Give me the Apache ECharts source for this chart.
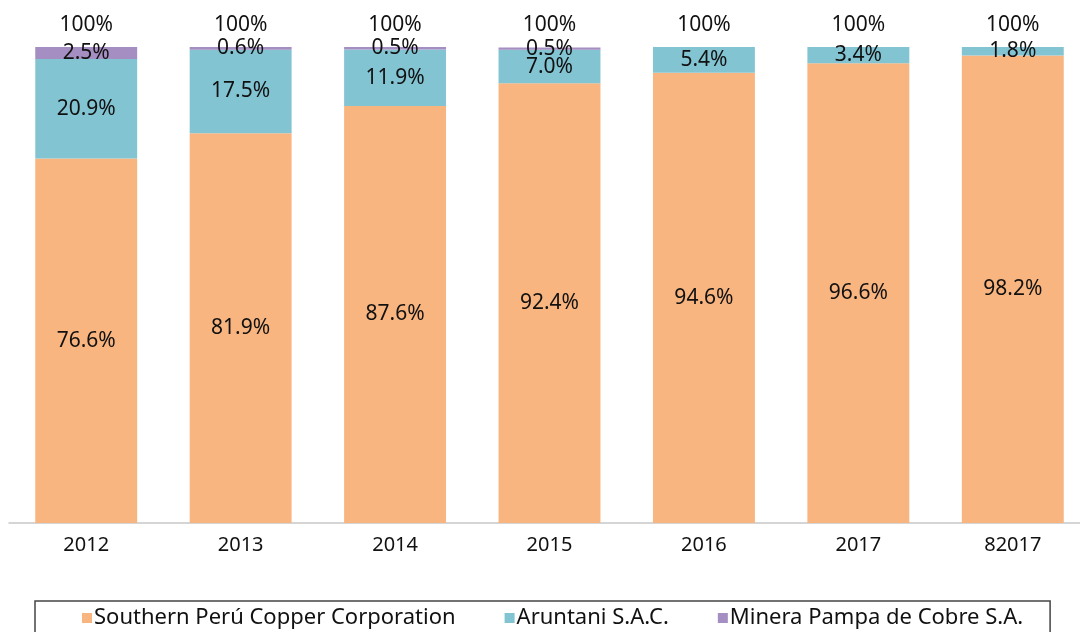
<!DOCTYPE html>
<html>
<head>
<meta charset="utf-8">
<style>
  html, body { margin: 0; padding: 0; background: #fff; }
  #chart { width: 1080px; height: 632px; }
</style>
<script src="https://cdn.jsdelivr.net/npm/echarts@6/dist/echarts.min.js"></script>
</head>
<body>
<div id="chart"></div>
<script>
// Participación en la producción de cobre por empresa
const years = ['2012', '2013', '2014', '2015', '2016', '2017', '82017']
const southern = [76.6, 81.9, 87.6, 92.4, 94.6, 96.6, 98.2]
const aruntani = [20.9, 17.5, 11.9, 7.0, 5.4, 3.4, 1.8]
const minera = [2.5, 0.6, 0.5, 0.5, 0, 0, 0]
const totals = [100, 100, 100, 100, 100, 100, 100]

const colors = {
  orange: '#F9B57F',
  blue: '#83C4D3',
  purple: '#A58EC1',
  text: '#111',
  axis: '#c8c8c8'
}
const font = 'Noto Sans'

const segLabel = {
  show: true,
  position: 'inside',
  color: colors.text,
  fontFamily: font,
  fontSize: 21,
  formatter: p => p.value > 0 ? p.value.toFixed(1) + '%' : ''
}

const chart = echarts.init(document.getElementById('chart'))
chart.setOption({
  animation: false,
  backgroundColor: '#fff',
  grid: { left: 9, width: 1081, top: 47, height: 476, outerBoundsMode: 'none' },
  legend: {
    data: ['Southern Perú Copper Corporation', 'Aruntani S.A.C.', 'Minera Pampa de Cobre S.A.'],
    left: 35,
    top: 601,
    padding: [6, 27, 14, 47],
    borderColor: '#444',
    borderWidth: 1.5,
    icon: 'rect',
    itemWidth: 10,
    itemHeight: 10,
    itemGap: 49,
    textStyle: { color: colors.text, fontFamily: font, fontSize: 22, padding: [0, 0, 0, -3] }
  },
  xAxis: {
    type: 'category',
    data: years,
    axisLine: { lineStyle: { color: colors.axis, width: 1.5 } },
    axisTick: { show: false },
    axisLabel: { color: colors.text, fontFamily: font, fontSize: 20, margin: 12 }
  },
  yAxis: { type: 'value', min: 0, max: 100, show: false },
  series: [
    {
      name: 'Southern Perú Copper Corporation',
      type: 'bar',
      stack: 'total',
      barWidth: '66%',
      itemStyle: { color: colors.orange },
      label: segLabel,
      data: southern
    },
    {
      name: 'Aruntani S.A.C.',
      type: 'bar',
      stack: 'total',
      itemStyle: { color: colors.blue },
      label: segLabel,
      data: aruntani
    },
    {
      name: 'Minera Pampa de Cobre S.A.',
      type: 'bar',
      stack: 'total',
      itemStyle: { color: colors.purple },
      label: segLabel,
      data: minera
    },
    {
      name: 'Total',
      type: 'bar',
      barWidth: '66%',
      barGap: '-100%',
      z: 1,
      silent: true,
      itemStyle: { color: 'rgba(0,0,0,0)' },
      label: {
        show: true,
        position: 'top',
        distance: 11,
        color: colors.text,
        fontFamily: font,
        fontSize: 21,
        formatter: '{c}%'
      },
      data: totals
    }
  ]
})
</script>
</body>
</html>
